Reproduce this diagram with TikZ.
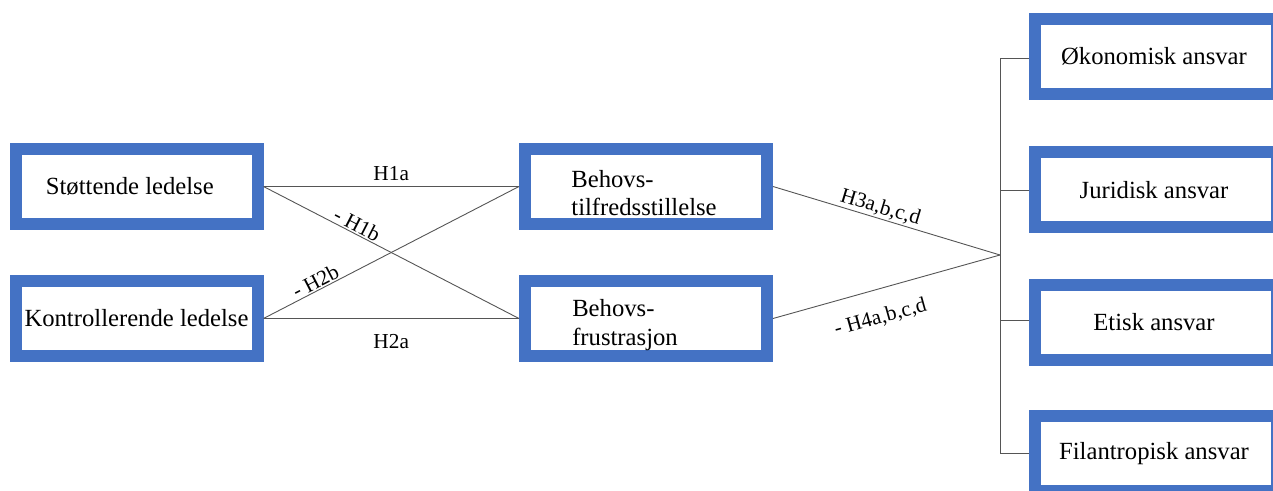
\documentclass[tikz,border=0pt]{standalone}
\usepackage{fontspec}
\setmainfont{Liberation Serif}
\newlength\pxl
\setlength\pxl{0.75pt}
\definecolor{frameblue}{HTML}{4472C4}
\definecolor{linkgrey}{HTML}{555555}
\begin{document}
\begin{tikzpicture}[x=\pxl,y=-\pxl,
  framebox/.style={draw=frameblue, line width=12\pxl, fill=white,
    minimum width=242\pxl, minimum height=75\pxl, inner sep=0pt,
    outer sep=6\pxl, font=\fontsize{18.5pt}{21.5pt}\selectfont},
  stacked/.style={align=left, inner sep=0pt, font=\fontsize{18.5pt}{21.5pt}\selectfont},
  link/.style={draw=linkgrey, line width=0.9\pxl},
  hyp/.style={font=\fontsize{16pt}{18pt}\selectfont, inner sep=1pt}]
\useasboundingbox (0,0) rectangle (1273,491);

% left column: leadership styles
\node[framebox] (st) at (136.5,186.5) {\hspace*{-10pt}Støttende ledelse};
\node[framebox] (ko) at (136.5,318.5) {\raisebox{-4pt}{Kontrollerende ledelse}};

% middle column: need satisfaction / frustration
\node[framebox] (bt) at (646,186.5) {};
\node[stacked] (btt) at (644,193) {Behovs-\\tilfredsstillelse};
\node[framebox] (bf) at (646,318.5) {};
\node[stacked, anchor=west] (bft) at (572,325) {Behovs-\\frustrasjon};

% right column: responsibility dimensions
\node[framebox] (ok) at (1156,56.5) {\hspace*{-3pt}\raisebox{-2pt}{Økonomisk ansvar}};
\node[framebox] (ju) at (1156,190) {\hspace*{-3pt}Juridisk ansvar};
\node[framebox] (et) at (1156,322.5) {\hspace*{-3pt}Etisk ansvar};
\node[framebox] (fi) at (1156,453.5) {\hspace*{-3pt}Filantropisk ansvar};

% junction points
\coordinate (hub) at (1000,255);
\coordinate (top) at (1000,58);
\coordinate (bot) at (1000,453.5);

% left-to-middle connectors
\draw[link] (st.east) -- node[hyp, above, yshift=3pt] (h1a) {H1a} (bt.west);
\draw[link] (st.east) -- node[hyp, pos=0.35, above, sloped] (h1b) {- H1b} (bf.west);
\draw[link] (ko.east) -- node[hyp, pos=0.22, above, sloped] (h2b) {- H2b} (bt.west);
\draw[link] (ko.east) -- node[hyp, below, yshift=-10.5pt] (h2a) {H2a} (bf.west);

% middle-to-hub connectors
\draw[link] (bt.east) -- node[hyp, pos=0.46, above, sloped] (h3) {H3a,b,c,d} (hub);
\draw[link] (bf.east) -- node[hyp, pos=0.44, below=13pt, sloped] (h4) {- H4a,b,c,d} (hub);

% bracket to the four outcome boxes
\draw[link] (ok.west |- top) -- (top) -- (bot) -- (fi.west |- bot);
\draw[link] (1000,190) -- (ju.west |- 0,190);
\draw[link] (1000,320) -- (et.west |- 0,320);
\end{tikzpicture}
\end{document}
